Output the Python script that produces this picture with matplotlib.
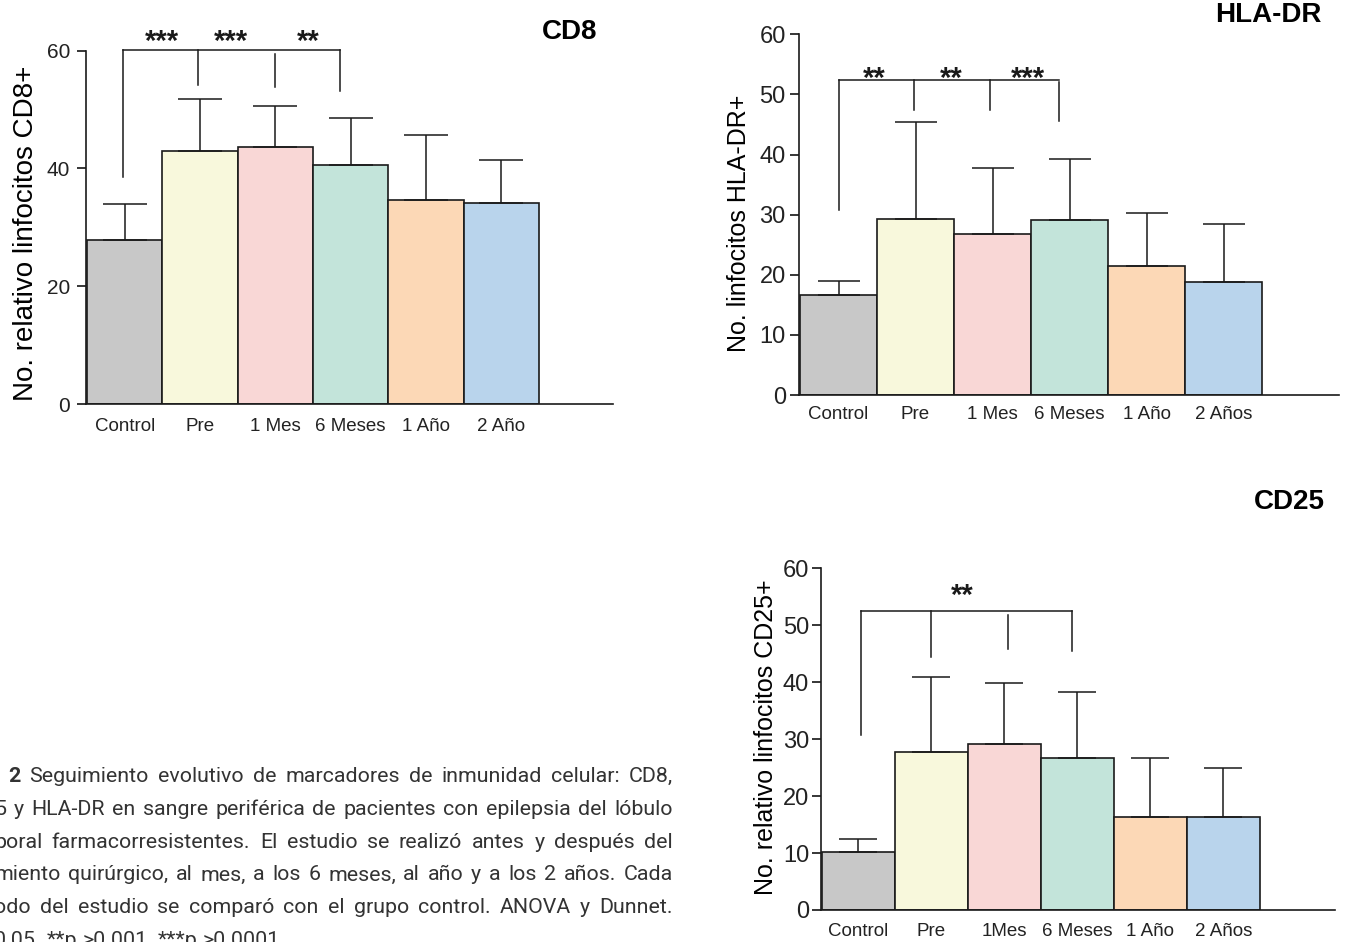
import matplotlib
matplotlib.use('Agg')
import matplotlib.pyplot as plt
import numpy as np
from matplotlib import font_manager

plt.rcParams['font.family'] = ['Liberation Sans', 'DejaVu Sans']

W, H = 1346, 942
names = {f.name for f in font_manager.fontManager.ttflist}

# ---- datos ----
colors = ['#c8c8c8', '#f8f8dc', '#f9d7d6', '#c3e4da', '#fcd8b6', '#b9d4ec']

cd8_labels = ['Control', 'Pre', '1 Mes', '6 Meses', '1 Año', '2 Año']
cd8_mean = [27.9, 42.9, 43.7, 40.5, 34.7, 34.2]
cd8_top = [33.9, 51.8, 50.6, 48.6, 45.6, 41.4]
cd8_leg_x = [-0.02, 0.97, 2.0, 2.86]
cd8_leg_top = [60.1, 60.1, 59.4, 60.1]
cd8_leg_bottom = [38.5, 54.2, 53.8, 53.2]
cd8_star_x = [0.50, 1.41, 2.43]
cd8_stars = ['***', '***', '**']
cd8_star_y = 63.0

hla_labels = ['Control', 'Pre', '1 Mes', '6 Meses', '1 Año', '2 Años']
hla_mean = [16.7, 29.3, 26.8, 29.1, 21.5, 18.8]
hla_top = [19.0, 45.4, 37.7, 39.3, 30.3, 28.5]
hla_leg_x = [0.0, 0.98, 1.97, 2.86]
hla_leg_top = [52.4, 52.4, 52.4, 52.0]
hla_leg_bottom = [30.8, 47.4, 47.4, 45.5]
hla_star_x = [0.47, 1.47, 2.46]
hla_stars = ['**', '**', '***']
hla_star_y = 54.1

cd25_labels = ['Control', 'Pre', '1Mes', '6 Meses', '1 Año', '2 Años']
cd25_mean = [10.2, 27.8, 29.1, 26.7, 16.3, 16.3]
cd25_top = [12.5, 40.9, 39.9, 38.2, 26.7, 24.9]
cd25_leg_x = [0.04, 1.0, 2.05, 2.93]
cd25_leg_top = [52.5, 52.5, 51.8, 52.5]
cd25_leg_bottom = [30.7, 44.4, 45.8, 45.5]
cd25_star_x = [1.43]
cd25_stars = ['**']
cd25_star_y = 56.7

caption_lines = [
    '2 Seguimiento evolutivo de marcadores de inmunidad celular: CD8,',
    '5 y HLA-DR en sangre periférica de pacientes con epilepsia del lóbulo',
    'poral farmacorresistentes. El estudio se realizó antes y después del',
    'miento quirúrgico, al mes, a los 6 meses, al año y a los 2 años. Cada',
    'odo del estudio se comparó con el grupo control. ANOVA y Dunnet.',
    '0.05  **p >0.001  ***p >0.0001',
]

fig = plt.figure(figsize=(W / 100, H / 100), dpi=100)


def add_px_axes(left, top, right, bottom):
    return fig.add_axes([left / W, 1 - bottom / H, (right - left) / W, (bottom - top) / H])


if 'Liberation Sans Narrow' in names:
    xtick_font = dict(family='Liberation Sans Narrow', size=15)
else:
    xtick_font = dict(family='Liberation Sans', size=13.5)


def panel(ax, labels, mean, top, xlim, yticks, ysize, ypad, capsize, xpad,
          leg_x, leg_top, leg_bottom, star_x, stars, star_y):
    x = np.arange(len(labels))
    mean = np.array(mean)
    err = np.array(top) - mean
    ax.bar(x, mean, width=1.0, color=colors, edgecolor='#1a1a1a', linewidth=1.2, zorder=2)
    ax.errorbar(x, mean, yerr=[np.zeros_like(err), err], fmt='none', ecolor='#1a1a1a',
                elinewidth=1.1, capsize=capsize, capthick=1.1, zorder=3)
    ax.set_xlim(*xlim)
    ax.set_ylim(0, 60)
    ax.set_yticks(yticks)
    ax.set_xticks(x)
    ax.set_xticklabels(labels, fontdict=xtick_font, color='#222222')
    ax.tick_params(axis='x', length=0, pad=xpad)
    ax.tick_params(axis='y', length=6.5, width=1.1, pad=ypad, labelsize=ysize, labelcolor='#222222')
    for s in ['top', 'right']:
        ax.spines[s].set_visible(False)
    for s in ['left', 'bottom']:
        ax.spines[s].set_linewidth(1.2)
        ax.spines[s].set_color('#1a1a1a')
    # corchete de significacion
    ax.plot([leg_x[0], leg_x[-1]], [leg_top[0], leg_top[0]], color='#1a1a1a', lw=1.1, clip_on=False)
    for lx, lt, lb in zip(leg_x, leg_top, leg_bottom):
        ax.plot([lx, lx], [lt, lb], color='#1a1a1a', lw=1.1, clip_on=False)
    for sx, st in zip(star_x, stars):
        ax.annotate(st, (sx, star_y), xytext=(0, -0.58 * 21), textcoords='offset points',
                    ha='center', va='baseline', fontsize=21, fontweight='bold',
                    color='#1a1a1a', annotation_clip=False)


ax1 = add_px_axes(86, 50.6, 613, 404)
panel(ax1, cd8_labels, cd8_mean, cd8_top, (-0.513, 6.48), [0, 20, 40, 60], 15, 5, 16, 10,
      cd8_leg_x, cd8_leg_top, cd8_leg_bottom, cd8_star_x, cd8_stars, cd8_star_y)

ax2 = add_px_axes(799, 34.3, 1339, 395)
panel(ax2, hla_labels, hla_mean, hla_top, (-0.513, 6.5), list(range(0, 61, 10)), 17, 3, 15, 8,
      hla_leg_x, hla_leg_top, hla_leg_bottom, hla_star_x, hla_stars, hla_star_y)

ax3 = add_px_axes(821, 568.3, 1335, 910)
panel(ax3, cd25_labels, cd25_mean, cd25_top, (-0.507, 6.53), list(range(0, 61, 10)), 17, 2, 13.5, 9,
      cd25_leg_x, cd25_leg_top, cd25_leg_bottom, cd25_star_x, cd25_stars, cd25_star_y)


def ftext(px, py, s, **kw):
    return fig.text(px / W, 1 - py / H, s, **kw)


# titulos y etiquetas de eje
ftext(570, 32, 'CD8', ha='center', va='center', fontsize=20, fontweight='bold')
ftext(1268, 15, 'HLA-DR', ha='center', va='center', fontsize=20, fontweight='bold')
ftext(1289, 502, 'CD25', ha='center', va='center', fontsize=20, fontweight='bold')

ftext(26, 233, 'No. relativo linfocitos CD8+', rotation=90, ha='center', va='center', fontsize=20)
ftext(739, 223, 'No. linfocitos HLA-DR+', rotation=90, ha='center', va='center', fontsize=18)
ftext(766, 737, 'No. relativo linfocitos CD25+', rotation=90, ha='center', va='center', fontsize=18)

# pie de figura justificado (recortado a la izquierda como en el original)
cap_family = 'Roboto'
renderer = fig.canvas.get_renderer()


def width_px(s, size, weight='normal'):
    t = fig.text(0, 0, s, family=cap_family, fontsize=size, fontweight=weight)
    w = t.get_window_extent(renderer).width
    t.remove()
    return w


line_left = [8, -6, -6, -6, -6, -6]
line_right = 673
base0, step = 782, 32.8


def word_weights(i, words):
    return ['bold' if (i == 0 and j == 0) else 'normal' for j in range(len(words))]


fs0 = 14.2
space0 = width_px('a a', fs0) - width_px('aa', fs0)
ratios = []
for i, line in enumerate(caption_lines[:-1]):
    words = line.split(' ')
    nat = sum(width_px(w, fs0, wt) for w, wt in zip(words, word_weights(i, words))) + 1.4 * space0 * (len(words) - 1)
    ratios.append((line_right - line_left[i]) / nat)
fs = min(17, fs0 * min(ratios))
space = width_px('a a', fs) - width_px('aa', fs)

for i, line in enumerate(caption_lines):
    words = line.split(' ')
    weights = word_weights(i, words)
    ws = [width_px(w, fs, wt) if w else 0 for w, wt in zip(words, weights)]
    if i < len(caption_lines) - 1:
        gap = (line_right - line_left[i] - sum(ws)) / (len(words) - 1)
    else:
        gap = space
    xpos = line_left[i]
    for w, wt, wd in zip(words, weights, ws):
        if w:
            ftext(xpos, base0 + step * i, w, ha='left', va='baseline', family=cap_family,
                  fontsize=fs, fontweight=wt, color='#333333')
        xpos += wd + gap

fig.savefig('out.png', dpi=100)
